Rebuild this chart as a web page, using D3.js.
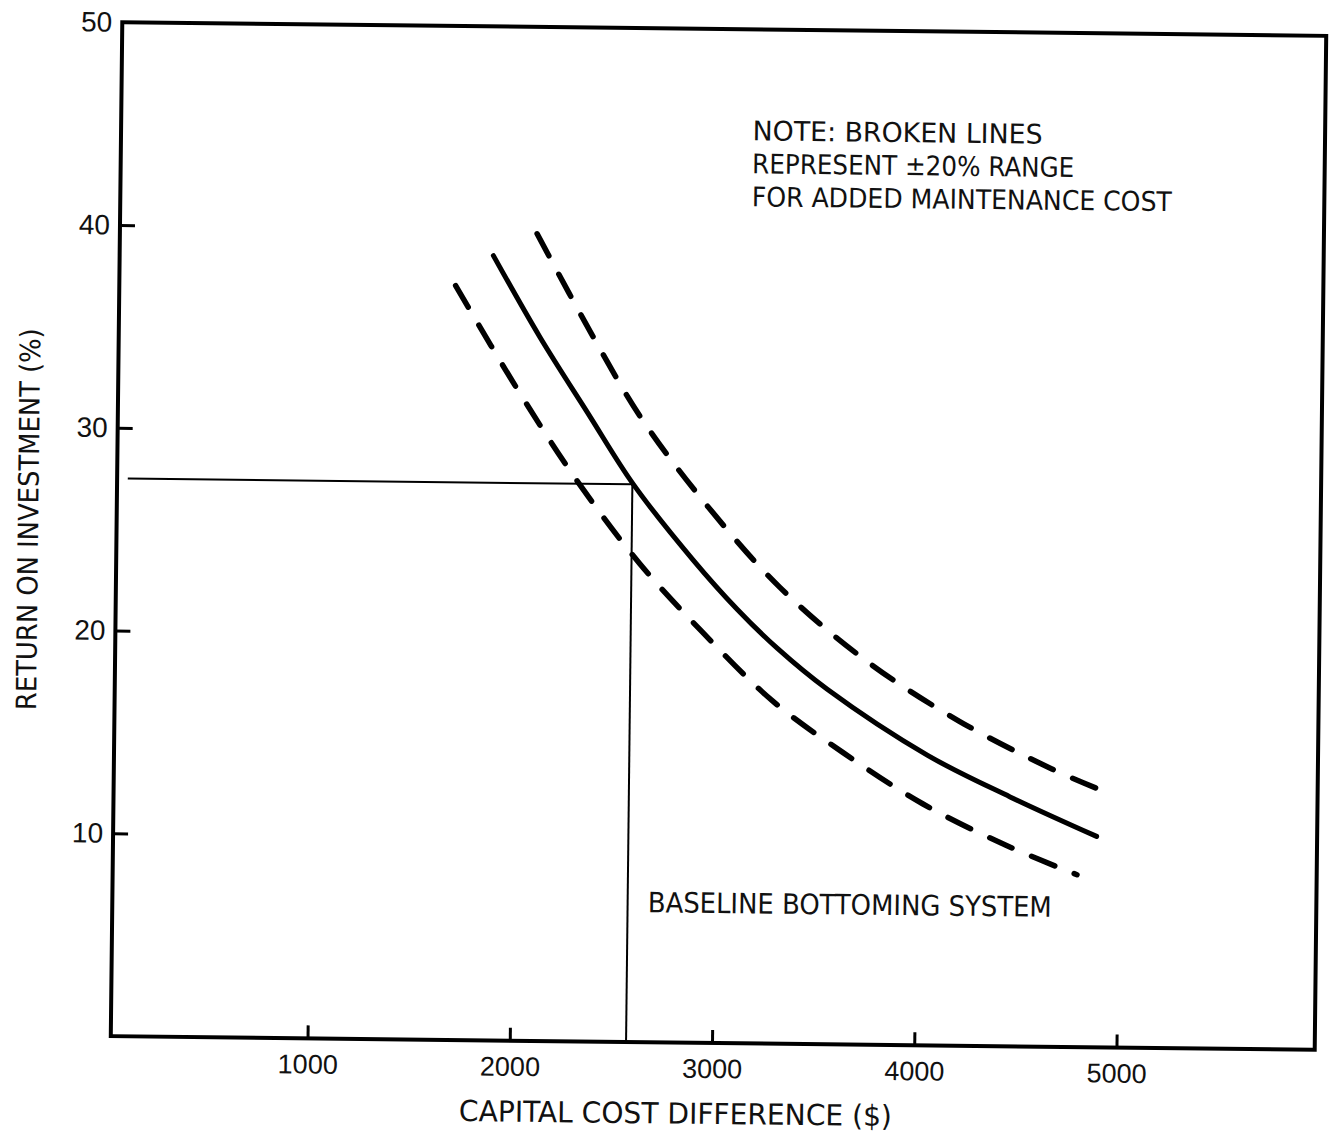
<!DOCTYPE html>
<html>
<head>
<meta charset="utf-8">
<script src="https://cdn.jsdelivr.net/npm/d3@7"></script>
<style>
  html, body { margin: 0; padding: 0; background: #fff; }
  svg { display: block; }
  text { font-family: "Liberation Sans Narrow", "DejaVu Sans Condensed", "Liberation Sans", sans-serif; fill: #111; }
</style>
</head>
<body>
<svg id="chart" width="1329" height="1134"></svg>
<script>
// ---- data ----
const xTickValues = [1000, 2000, 3000, 4000, 5000];
const yTickValues = [10, 20, 30, 40, 50];

const solidX = [1875, 2110, 2350, 2580, 2880, 3100, 3300, 3550, 4050, 4460, 4890];
const solidY = [38.7, 34.7, 31.0, 27.5, 23.8, 21.4, 19.5, 17.5, 14.3, 12.3, 10.4];

const upperX = [2090, 2370, 2620, 2945, 3310, 3745, 4205, 4665, 4905];
const upperY = [39.8, 34.8, 30.7, 26.5, 22.5, 18.9, 16.0, 13.7, 12.7];

const lowerX = [1690, 1990, 2290, 2615, 2925, 3280, 3630, 4030, 4445, 4795];
const lowerY = [37.2, 32.3, 27.8, 23.6, 20.3, 16.9, 14.4, 11.9, 9.9, 8.5];

const refX = 2575;      // baseline bottoming system capital cost difference
const refY = 27.5;      // baseline return on investment
const refStartX = 80;

const xTitle = "CAPITAL COST DIFFERENCE ($)";
const yTitle = "RETURN ON INVESTMENT (%)";
const noteLines = ["NOTE: BROKEN LINES", "REPRESENT \u00B120% RANGE", "FOR ADDED MAINTENANCE COST"];
const baselineLabel = "BASELINE BOTTOMING SYSTEM";

// ---- layout ----
const frame = { left: 116.5, right: 1320.5, top: 29, bottom: 1043 };
const svg = d3.select("#chart");
const g = svg.append("g").attr("transform", "rotate(0.65, 718.5, 536)");

const x = d3.scaleLinear().domain([0, 6000]).range([111, 1324.5]);
const y = d3.scaleLinear().domain([0, 50]).range([frame.bottom, frame.top]);

// frame
g.append("rect")
  .attr("x", frame.left).attr("y", frame.top)
  .attr("width", frame.right - frame.left).attr("height", frame.bottom - frame.top)
  .attr("fill", "none").attr("stroke", "#000").attr("stroke-width", 4);

// y axis
const yAxis = g.append("g")
  .attr("transform", `translate(${frame.left},0)`)
  .call(d3.axisLeft(y).tickValues(yTickValues).tickSize(-15).tickPadding(10).tickFormat(d3.format("d")));
yAxis.select(".domain").remove();
yAxis.selectAll(".tick line").attr("stroke", "#000").attr("stroke-width", 3)
  .attr("opacity", d => d === 50 ? 0 : 1);
yAxis.selectAll(".tick text").attr("font-size", 28).attr("fill", "#111")
  .style("font-family", '"Liberation Sans", Arial, sans-serif');

// x axis
const xAxis = g.append("g")
  .attr("transform", `translate(0,${frame.bottom})`)
  .call(d3.axisBottom(x).tickValues(xTickValues).tickSize(-13).tickPadding(16).tickFormat(d3.format("d")));
xAxis.select(".domain").remove();
xAxis.selectAll(".tick line").attr("stroke", "#000").attr("stroke-width", 3);
xAxis.selectAll(".tick text").attr("font-size", 27).attr("fill", "#111")
  .style("font-family", '"Liberation Sans", Arial, sans-serif');

// axis titles
g.append("text")
  .attr("x", 682).attr("y", 1124)
  .attr("text-anchor", "middle")
  .attr("font-size", 29)
  .attr("textLength", 433).attr("lengthAdjust", "spacingAndGlyphs")
  .text(xTitle);

g.append("text")
  .attr("transform", "translate(38,527) rotate(-90)")
  .attr("text-anchor", "middle")
  .attr("font-size", 28)
  .attr("textLength", 382).attr("lengthAdjust", "spacingAndGlyphs")
  .text(yTitle);

// reference lines
g.append("line")
  .attr("x1", x(refStartX)).attr("y1", y(refY))
  .attr("x2", x(refX)).attr("y2", y(refY))
  .attr("stroke", "#000").attr("stroke-width", 2);
g.append("line")
  .attr("x1", x(refX)).attr("y1", y(refY))
  .attr("x2", x(refX)).attr("y2", y(0))
  .attr("stroke", "#000").attr("stroke-width", 2);

// curves
const line = d3.line()
  .x(d => x(d[0])).y(d => y(d[1]))
  .curve(d3.curveCatmullRom.alpha(0.5));

const solid = d3.zip(solidX, solidY);
const upper = d3.zip(upperX, upperY);
const lower = d3.zip(lowerX, lowerY);

g.append("path").datum(solid).attr("d", line)
  .attr("fill", "none").attr("stroke", "#000").attr("stroke-width", 5)
  .attr("stroke-linecap", "round");
[upper, lower].forEach(s => {
  g.append("path").datum(s).attr("d", line)
    .attr("fill", "none").attr("stroke", "#000").attr("stroke-width", 5.5)
    .attr("stroke-linecap", "round")
    .attr("stroke-dasharray", "25,21");
});

// annotations
const lengths = [290, 322, 420];
noteLines.forEach((t, i) => {
  g.append("text")
    .attr("x", 748).attr("y", 140 + i * 33)
    .attr("font-size", 27)
    .attr("textLength", lengths[i]).attr("lengthAdjust", "spacingAndGlyphs")
    .text(t);
});

g.append("text")
  .attr("x", 652).attr("y", 913)
  .attr("font-size", 28)
  .attr("textLength", 404).attr("lengthAdjust", "spacingAndGlyphs")
  .text(baselineLabel);
</script>
</body>
</html>
